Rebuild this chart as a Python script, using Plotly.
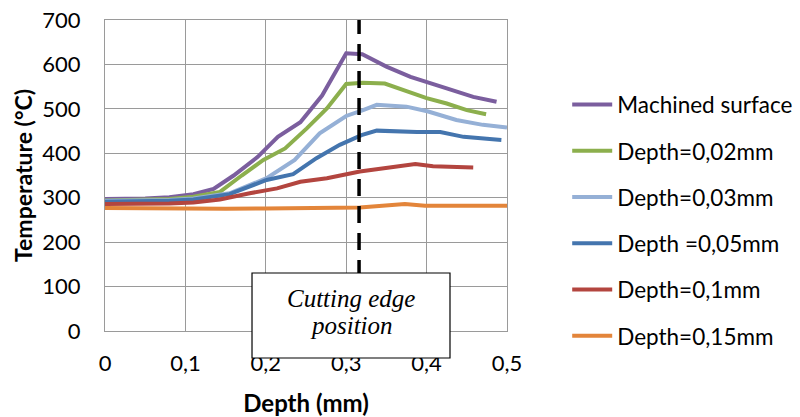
import plotly.graph_objects as go

# ---- data ----
names = ["Machined surface", "Depth=0,02mm", "Depth=0,03mm", "Depth =0,05mm", "Depth=0,1mm", "Depth=0,15mm"]
colors = ["#7B5E9E", "#8CAF4D", "#95B0D6", "#4475AE", "#B3453F", "#E3853A"]

x_machined = [0, 0.05, 0.08, 0.11, 0.135, 0.16, 0.19, 0.215, 0.243, 0.27, 0.3, 0.32, 0.35, 0.38, 0.425, 0.458, 0.487]
y_machined = [297, 298, 301, 308, 320, 350, 392, 437, 470, 530, 625, 623, 595, 572, 546, 527, 516]

x_d002 = [0, 0.05, 0.08, 0.11, 0.143, 0.17, 0.197, 0.224, 0.251, 0.276, 0.30, 0.321, 0.348, 0.375, 0.40, 0.425, 0.45, 0.474]
y_d002 = [294, 295, 297, 302, 313, 350, 385, 411, 456, 501, 556, 559, 557, 540, 524, 512, 497, 488]

x_d003 = [0, 0.05, 0.08, 0.11, 0.155, 0.201, 0.236, 0.267, 0.30, 0.321, 0.338, 0.375, 0.402, 0.437, 0.47, 0.50]
y_d003 = [293, 294, 295, 298, 310, 344, 385, 445, 484, 497, 509, 505, 494, 475, 464, 458]

x_d005 = [0, 0.05, 0.08, 0.11, 0.155, 0.201, 0.234, 0.263, 0.292, 0.319, 0.338, 0.388, 0.417, 0.446, 0.493]
y_d005 = [291, 292, 293, 296, 308, 340, 353, 389, 419, 441, 451, 448, 448, 437, 430]

x_d01 = [0, 0.05, 0.08, 0.11, 0.143, 0.18, 0.214, 0.243, 0.276, 0.317, 0.367, 0.386, 0.408, 0.458]
y_d01 = [286, 286, 287, 289, 296, 310, 321, 336, 344, 359, 370, 376, 371, 368]

x_d015 = [0, 0.05, 0.1, 0.15, 0.2, 0.25, 0.3, 0.317, 0.373, 0.398, 0.45, 0.5]
y_d015 = [277, 276, 276, 275, 276, 276, 276, 278, 286, 282, 282, 282]

series_x = [x_machined, x_d002, x_d003, x_d005, x_d01, x_d015]
series_y = [y_machined, y_d002, y_d003, y_d005, y_d01, y_d015]

x_ticks = [0, 0.1, 0.2, 0.3, 0.4, 0.5]
y_ticks = [0, 100, 200, 300, 400, 500, 600, 700]
CUTTING_EDGE_X = 0.316
box_lines = ["Cutting edge", "position"]

FONT = "Lato, 'Open Sans', sans-serif"
SERIF = "'Liberation Serif', 'Times New Roman', serif"
GRID = "#9A9A9A"

fig = go.Figure()
for i, (nm, xs, ys, c) in enumerate(zip(names, series_x, series_y, colors)):
    fig.add_trace(go.Scatter(x=xs, y=ys, mode="lines", name=nm,
                             line=dict(color=c, width=4), legendgroup=f"g{i}"))

# cutting edge marker line
fig.add_shape(type="line", xref="x", yref="y", x0=CUTTING_EDGE_X, x1=CUTTING_EDGE_X,
              y0=0, y1=700, line=dict(color="black", width=3.5, dash="17px,10px"), layer="above")
# label box (paper coords)
fig.add_shape(type="rect", xref="paper", yref="paper", x0=0.3657, x1=0.8582, y0=-0.0868, y1=0.1865,
              fillcolor="white", line=dict(color="black", width=1.2), layer="above")
for txt, yy in zip(box_lines, [0.1029, 0.0161]):
    fig.add_annotation(xref="paper", yref="paper", x=0.612, y=yy, xanchor="center", yanchor="middle",
                       text=f"<i>{txt}</i>", showarrow=False,
                       font=dict(family=SERIF, size=25, color="black"))

fig.update_layout(
    width=800, height=417,
    margin=dict(l=105, r=293, t=20, b=86, autoexpand=False),
    paper_bgcolor="white", plot_bgcolor="white",
    separators=", ",
    font=dict(family=FONT, size=22, color="black"),
    showlegend=True,
    legend=dict(xref="container", yref="container", x=0.709, y=0.80, xanchor="left", yanchor="top",
                font=dict(size=22.5, family=FONT), maxheight=400,
                tracegroupgap=14, itemwidth=40, bgcolor="rgba(0,0,0,0)"),
    xaxis=dict(range=[0, 0.5], tickvals=x_ticks, showgrid=True, gridcolor=GRID, gridwidth=1,
               showline=True, linecolor=GRID, mirror=True, zeroline=False, automargin=False,
               ticks="", ticklabelstandoff=13, tickfont=dict(size=22),
               title=dict(text="<b>Depth (mm)</b>", font=dict(size=24), standoff=21)),
    yaxis=dict(range=[0, 700], tickvals=y_ticks, showgrid=True, gridcolor=GRID, gridwidth=1,
               showline=True, linecolor=GRID, mirror=True, zeroline=False, automargin=False,
               ticks="", ticklabelstandoff=19, tickfont=dict(size=22),
               title=dict(text="<b>Temperature (°C)</b>", font=dict(size=23), standoff=3)),
)

fig.write_html("out.html", config={"displayModeBar": False},
               post_script="document.body.style.margin='0';")
